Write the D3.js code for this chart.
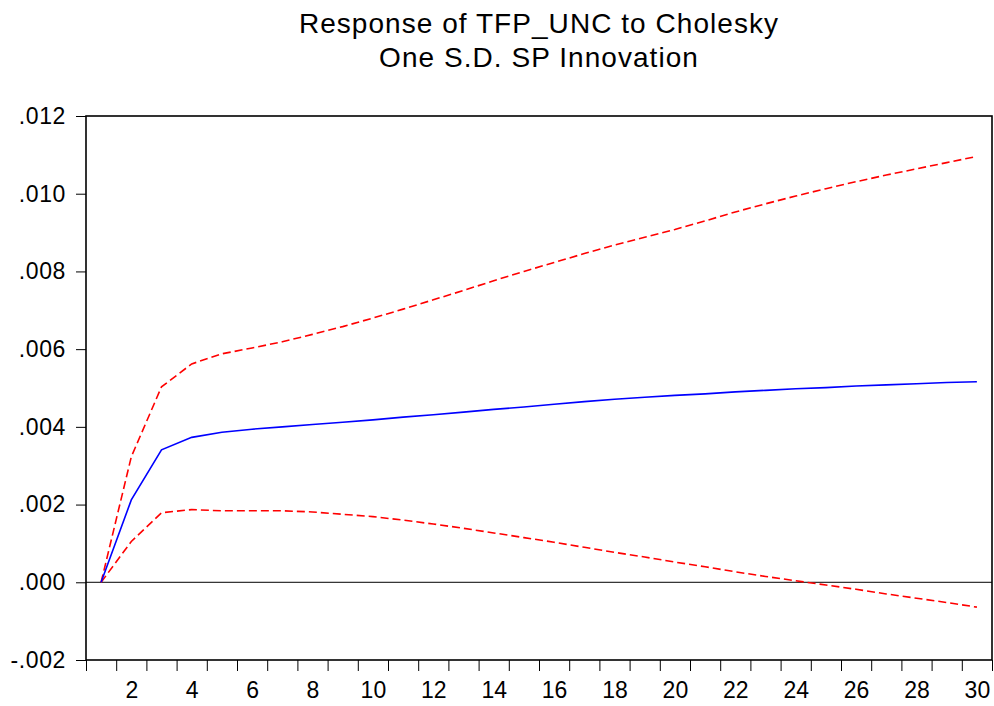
<!DOCTYPE html>
<html>
<head>
<meta charset="utf-8">
<script src="https://cdn.jsdelivr.net/npm/d3@7"></script>
<style>
  html, body { margin: 0; padding: 0; background: #fff; }
  svg { display: block; font-family: "Liberation Sans", Arial, sans-serif; }
</style>
</head>
<body>
<svg id="chart" width="994" height="706"></svg>
<script>
const titleLines = ["Response of TFP_UNC to Cholesky", "One S.D. SP Innovation"];
const periods = d3.range(1, 31);
const response = [0, .00212, .00341, .00373, .00386, .00394, .00400, .00406, .00412, .00418,
  .00425, .00431, .00438, .00445, .00451, .00458, .00465, .00471, .00476, .00481,
  .00485, .00490, .00494, .00498, .00501, .00505, .00508, .00511, .00514, .00516];
const upper = [0, .00323, .00503, .00562, .00588, .00603, .00619, .00638, .00658, .00680,
  .00703, .00727, .00751, .00776, .00800, .00823, .00846, .00868, .00888, .00908,
  .00930, .00953, .00974, .00994, .01013, .01031, .01048, .01064, .01080, .01096];
const lower = [0, .00105, .00179, .00187, .00184, .00184, .00184, .00181, .00175, .00169,
  .00160, .00150, .00139, .00127, .00115, .00103, .00090, .00077, .00065, .00052,
  .00040, .00027, .00015, .00004, -.00007, -.00018, -.00030, -.00041, -.00052, -.00064];
const yTicks = [-0.002, 0, 0.002, 0.004, 0.006, 0.008, 0.010, 0.012];
const xLabels = [2, 4, 6, 8, 10, 12, 14, 16, 18, 20, 22, 24, 26, 28, 30];

const svg = d3.select("#chart");
const L = 86, R = 992, T = 116, B = 660;

const x = d3.scaleLinear().domain([0.5, 30.5]).range([L, R]);
const y = d3.scaleLinear().domain([-0.002, 0.012]).range([B, T]);

// Title
svg.append("g").selectAll("text").data(titleLines).join("text")
  .attr("x", 539).attr("y", (d, i) => 33 + i * 34)
  .attr("text-anchor", "middle")
  .attr("font-size", 28)
  .attr("letter-spacing", 1.05)
  .attr("fill", "#000")
  .text(d => d);

const fmt = v => {
  let s = d3.format(".3f")(v).replace("\u2212", "-");
  return s.replace("-0.", "-.").replace(/^0\./, ".");
};

// Y axis
const yAxis = svg.append("g").attr("transform", `translate(${L},0)`)
  .call(d3.axisLeft(y).tickValues(yTicks).tickSize(10).tickPadding(10).tickFormat(fmt));
yAxis.select(".domain").remove();
yAxis.selectAll("line").attr("stroke", "#000").attr("stroke-width", 1);
yAxis.selectAll("text").attr("font-size", 23).attr("letter-spacing", 0.6)
  .attr("font-family", "Liberation Sans, Arial, sans-serif").attr("fill", "#000");

// X axis ticks at band boundaries
const xTickAxis = svg.append("g").attr("transform", `translate(0,${B})`)
  .call(d3.axisBottom(x).tickValues(d3.range(0.5, 31, 1)).tickSize(11).tickFormat(""));
xTickAxis.select(".domain").remove();
xTickAxis.selectAll("line").attr("stroke", "#000").attr("stroke-width", 1);

// X labels
const xLabAxis = svg.append("g").attr("transform", `translate(0,${B})`)
  .call(d3.axisBottom(x).tickValues(xLabels).tickSize(0).tickPadding(22).tickFormat(d3.format("d")));
xLabAxis.select(".domain").remove();
xLabAxis.selectAll("text").attr("font-size", 23)
  .attr("font-family", "Liberation Sans, Arial, sans-serif").attr("fill", "#000");

// Zero line
svg.append("line")
  .attr("x1", L).attr("x2", R).attr("y1", y(0)).attr("y2", y(0))
  .attr("stroke", "#000").attr("stroke-width", 1);

const line = d3.line().x((d, i) => x(periods[i])).y(d => y(d));

svg.append("path").datum(upper).attr("d", line)
  .attr("fill", "none").attr("stroke", "#ff0000").attr("stroke-width", 1.6)
  .attr("stroke-dasharray", "8,4");
svg.append("path").datum(lower).attr("d", line)
  .attr("fill", "none").attr("stroke", "#ff0000").attr("stroke-width", 1.6)
  .attr("stroke-dasharray", "8,4");
svg.append("path").datum(response).attr("d", line)
  .attr("fill", "none").attr("stroke", "#0000ff").attr("stroke-width", 1.6);

// Frame
svg.append("rect")
  .attr("x", L).attr("y", T).attr("width", R - L).attr("height", B - T)
  .attr("fill", "none").attr("stroke", "#000").attr("stroke-width", 1.6);
</script>
</body>
</html>
